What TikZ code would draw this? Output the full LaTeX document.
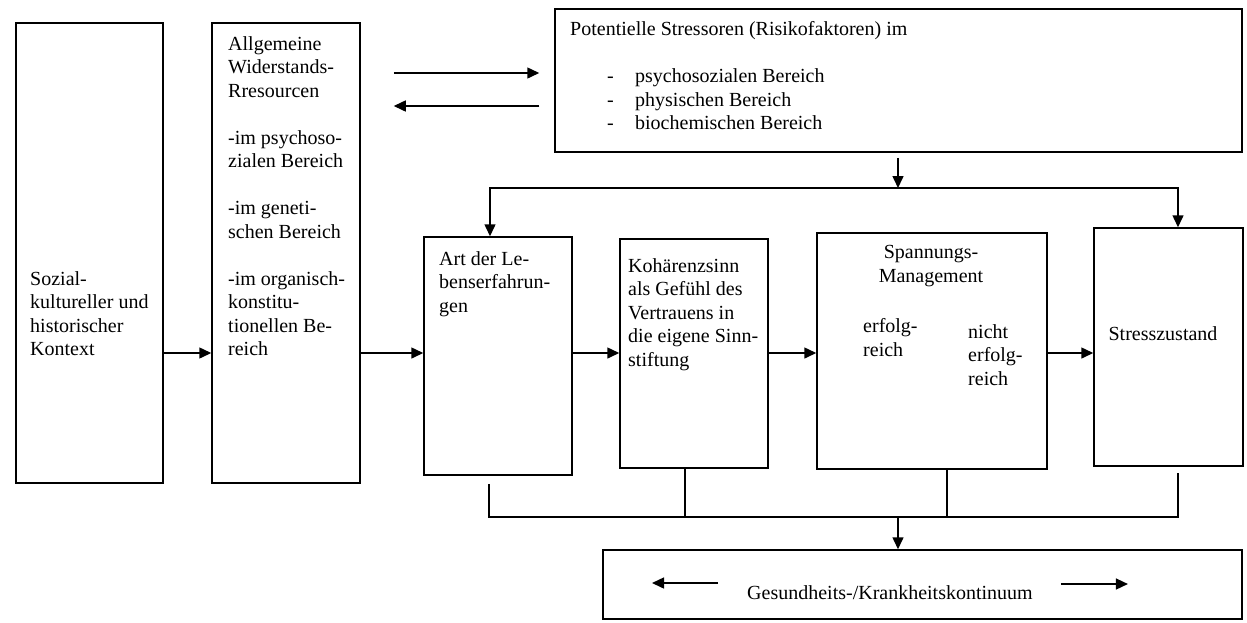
\documentclass[tikz,border=0pt]{standalone}
\usepackage{fontspec}
\setmainfont{Liberation Serif}
\usetikzlibrary{arrows.meta}

\tikzset{
  box/.style={draw, line width=1.5pt, inner sep=0pt},
  txt/.style={inner sep=0pt, align=left, anchor=north west, font=\fontsize{20}{23.5}\selectfont},
  arr/.style={line width=1.5pt, -{Triangle[length=12pt,width=11pt]}},
  conn/.style={line width=1.5pt}
}
\newcommand{\stritem}[1]{\makebox[65pt][l]{\hspace*{37pt}-}#1}

\begin{document}
\begin{tikzpicture}[x=1pt, y=-1pt]
  \useasboundingbox (0,0) rectangle (1247,622);

  % Boxes
  \node[box, minimum width=147pt, minimum height=460pt] (sozial) at (89.5,253) {};
  \node[box, minimum width=148pt, minimum height=460pt] (allg) at (286,253) {};
  \node[box, minimum width=687pt, minimum height=143pt] (stress) at (898.5,80.5) {};
  \node[box, minimum width=148pt, minimum height=238pt] (art) at (498,356) {};
  \node[box, minimum width=148pt, minimum height=229pt] (koh) at (694,353.5) {};
  \node[box, minimum width=230pt, minimum height=236pt] (span) at (932,351) {};
  \node[box, minimum width=149pt, minimum height=238pt] (zust) at (1168.5,347) {};
  \node[box, minimum width=639pt, minimum height=69pt] (kont) at (922.5,584.5) {};

  % Texts
  \node[txt] (soztxt) at (30,271.3) {Sozial-\\kultureller und\\historischer\\Kontext};
  \node[txt] (allgtxt) at (228,36.3) {Allgemeine\\Widerstands-\\Rresourcen\\[23.5pt]
    -im psychoso-\\zialen Bereich\\[23.5pt]
    -im geneti-\\schen Bereich\\[23.5pt]
    -im organisch-\\konstitu-\\tionellen Be-\\reich};
  \node[txt] (stresstxt) at (570,21.3) {Potentielle Stressoren (Risikofaktoren) im\\[23.5pt]
    \stritem{psychosozialen Bereich}\\
    \stritem{physischen Bereich}\\
    \stritem{biochemischen Bereich}};
  \node[txt] (arttxt) at (439,251.3) {Art der Le-\\benserfahrun-\\gen};
  \node[txt] (kohtxt) at (628,258.3) {Kohärenzsinn\\als Gefühl des\\Vertrauens in\\die eigene Sinn-\\stiftung};
  \node[txt, anchor=north, align=center] (spantxt) at (931,245.3) {Spannungs-\\Management};
  \node[txt] (erftxt) at (863,318.3) {erfolg-\\reich};
  \node[txt] (nichttxt) at (968,324.3) {nicht\\erfolg-\\reich};
  \node[txt, anchor=base] (zusttxt) at (1163,340) {Stresszustand};
  \node[txt, anchor=base west] (gk) at (747,599) {Gesundheits-/Krankheitskontinuum};

  % Helper points
  \coordinate (lvl) at (0,353);
  \coordinate (r1) at (0,73);
  \coordinate (r2) at (0,106);
  \coordinate (split) at (898,188);
  \coordinate (merge) at (898,517);
  \coordinate (artin) at ([xshift=-8pt]art.north);
  \coordinate (zustin) at ([xshift=9.5pt]zust.north);
  \coordinate (artout) at ([xshift=-9pt,yshift=-8pt]art.south);
  \coordinate (kohout) at ([xshift=-9pt]koh.south);
  \coordinate (spanout) at ([xshift=15pt]span.south);
  \coordinate (zustout) at ([xshift=9.5pt,yshift=-6pt]zust.south);

  % Main chain
  \draw[arr] (sozial.east |- lvl) -- (allg.west |- lvl);
  \draw[arr] (allg.east |- lvl) -- (art.west |- lvl);
  \draw[arr] (art.east |- lvl) -- (koh.west |- lvl);
  \draw[arr] (koh.east |- lvl) -- (span.west |- lvl);
  \draw[arr] (span.east |- lvl) -- (zust.west |- lvl);

  % Resources <-> stressors
  \draw[arr, shorten <=33pt, shorten >=15pt] (allg.east |- r1) -- (stress.west |- r1);
  \draw[arr, shorten <=15pt, shorten >=33pt] (stress.west |- r2) -- (allg.east |- r2);

  % Stressors down
  \draw[arr, shorten <=5pt] (stress.south -| split) -- (split);
  \draw[arr] (split) -| (artin);
  \draw[arr] (split) -| (zustin);

  % Collector to continuum
  \draw[conn] (artout) |- (merge) -| (zustout);
  \draw[conn] (kohout) -- (kohout |- merge);
  \draw[conn] (spanout) -- (spanout |- merge);
  \draw[arr] (merge) -- (merge |- kont.north);

  % Continuum arrows
  \draw[arr] ([xshift=-29pt,yshift=16pt]gk.base west) -- ([xshift=-95pt,yshift=16pt]gk.base west);
  \draw[arr] ([xshift=28pt,yshift=15pt]gk.base east) -- ([xshift=95pt,yshift=15pt]gk.base east);
\end{tikzpicture}
\end{document}
